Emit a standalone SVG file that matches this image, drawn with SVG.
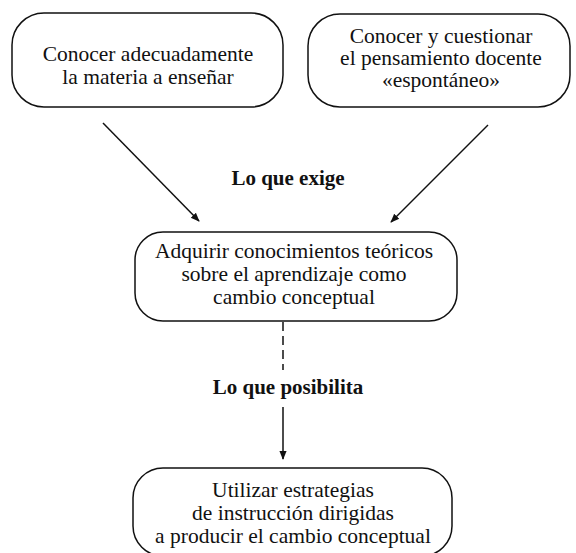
<svg xmlns="http://www.w3.org/2000/svg" width="576" height="553" viewBox="0 0 576 553">
<defs>
<style>
.box{fill:none;stroke:#111;stroke-width:1.5}
.t{font-family:"Liberation Serif","Times New Roman",serif;font-size:21.5px;fill:#111;text-anchor:middle}
.lbl{font-family:"Liberation Serif","Times New Roman",serif;font-size:21px;font-weight:bold;fill:#111;text-anchor:middle}
.ln{stroke:#111;stroke-width:1.5;fill:none}
</style>
<marker id="ah" viewBox="0 0 10 10" refX="9" refY="5" markerWidth="9" markerHeight="9" markerUnits="userSpaceOnUse" orient="auto"><path d="M0,1 L10,5 L0,9 Z" fill="#111"/></marker>
</defs>
<rect width="576" height="553" fill="#fff"/>
<g id="n1">
<rect class="box" x="12" y="13" width="271" height="94" rx="32" ry="32"/>
<text class="t" x="148" y="61">Conocer adecuadamente</text>
<text class="t" x="148" y="84">la materia a enseñar</text>
</g>
<g id="n2">
<rect class="box" x="308" y="14" width="262" height="93" rx="32" ry="32"/>
<text class="t" x="441" y="43">Conocer y cuestionar</text>
<text class="t" x="441" y="65">el pensamiento docente</text>
<text class="t" x="441" y="87">«espontáneo»</text>
</g>
<g id="n3">
<rect class="box" x="135" y="232" width="322" height="89" rx="28" ry="28"/>
<text class="t" x="294" y="258">Adquirir conocimientos teóricos</text>
<text class="t" x="294" y="281">sobre el aprendizaje como</text>
<text class="t" x="294" y="304">cambio conceptual</text>
</g>
<g id="n4">
<rect class="box" x="133" y="468" width="319" height="88" rx="30" ry="30"/>
<text class="t" x="293" y="497">Utilizar estrategias</text>
<text class="t" x="293" y="520">de instrucción dirigidas</text>
<text class="t" x="293" y="543">a producir el cambio conceptual</text>
</g>
<g id="connectors">
<line class="ln" x1="103" y1="123" x2="199" y2="221" marker-end="url(#ah)"/>
<line class="ln" x1="488" y1="125" x2="391" y2="222" marker-end="url(#ah)"/>
<line class="ln" x1="283" y1="322" x2="283" y2="370" stroke-dasharray="9 5"/>
<line class="ln" x1="283" y1="407" x2="283" y2="459" marker-end="url(#ah)"/>
<text class="lbl" x="288" y="185">Lo que exige</text>
<text class="lbl" x="288" y="394">Lo que posibilita</text>
</g>
</svg>
